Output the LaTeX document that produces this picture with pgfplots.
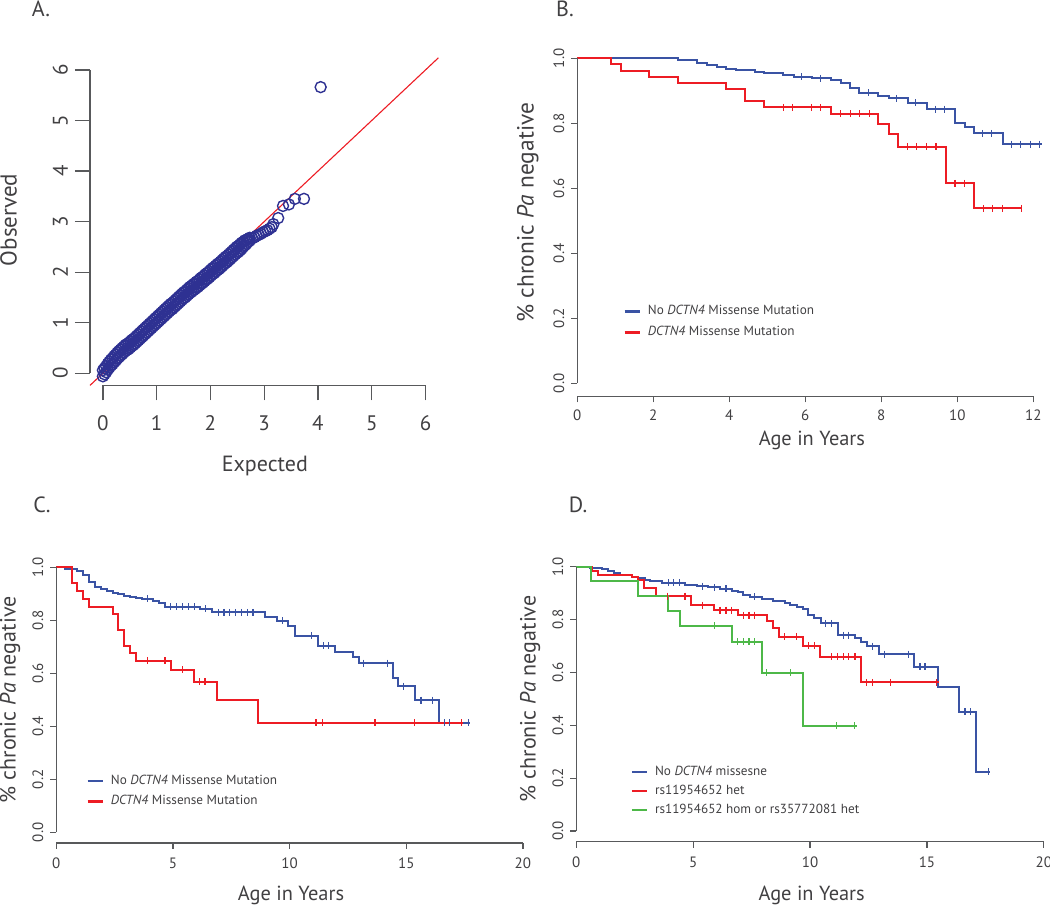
\documentclass[border=0pt]{standalone}
\usepackage{pgfplots}
\pgfplotsset{compat=1.18}
\usepackage{fontspec}
\setmainfont{PT Sans}
\definecolor{txt}{HTML}{414042}
\definecolor{axc}{HTML}{58595B}
\definecolor{kmblue}{HTML}{3A53A4}
\definecolor{kmred}{HTML}{ED1C24}
\definecolor{kmgreen}{HTML}{4DB848}
\definecolor{qqblue}{HTML}{2E3192}
\newcommand{\fs}[1]{\fontsize{#1}{#1}\selectfont}
\pgfplotsset{
  Rax/.style={scale only axis, anchor=south west, axis line style={draw=none},
    tick align=outside, tick pos=left, tick style={axc, line width=0.6pt},
    clip=false, major tick length=3pt,
    xticklabel style={text=txt, font=\fs{7.5}},
    yticklabel style={text=txt, font=\fs{7.5}, rotate=90, anchor=south},
    legend cell align=left,
    legend image code/.code={\draw[#1, line width=1.3pt] (0pt,0pt) -- (7.5pt,0pt);},
  },
  step/.style={const plot, line width=1pt},
  cens/.style={only marks, mark=|, mark size=1.75pt, mark options={line width=0.6pt}, forget plot},
  leg/.style={legend style={draw=none, fill=none, inner sep=0pt, anchor=north west,
     font=\fs{6.6}, text=txt, row sep=3.2pt, nodes={inner sep=0.5pt},
     /tikz/every odd column/.append style={column sep=3pt}}},
}
\begin{document}
\begin{tikzpicture}
\useasboundingbox (0pt,0pt) rectangle (525pt,453.5pt);
\node[text=txt, font=\fs{11}] at (20.5pt,449pt) {A.};
\node[text=txt, font=\fs{11}] at (282.5pt,449pt) {B.};
\node[text=txt, font=\fs{11}] at (21pt,201pt) {C.};
\node[text=txt, font=\fs{11}] at (289pt,201pt) {D.};
% ---------------- A
\begin{axis}[Rax, at={(45pt,260.8pt)}, width=174.2pt, height=163.8pt,
  xmin=-0.24, xmax=6.24, ymin=-0.24, ymax=6.24,
  xtick={0,1,2,3,4,5,6}, xticklabels={0,1,2,3,4,5,6},
  ytick={0,1,2,3,4,5,6}, yticklabels={0,1,2,3,4,5,6},
  major tick length=7.5pt,
  xticklabel style={font=\fs{10.5}, yshift=-4pt}, yticklabel style={font=\fs{10.5}}]
\addplot[only marks, mark=o, mark size=2.75pt, qqblue, mark options={line width=0.7pt}] coordinates {
(0.00,0.06)(0.03,0.10)(0.06,0.14)(0.09,0.19)(0.12,0.23)(0.15,0.27)(0.18,0.30)(0.21,0.34)(0.24,0.37)(0.27,0.41)
(0.30,0.44)(0.33,0.47)(0.36,0.50)(0.39,0.53)(0.42,0.56)(0.45,0.58)(0.48,0.60)(0.51,0.63)(0.54,0.66)(0.57,0.68)
(0.60,0.71)(0.63,0.74)(0.66,0.77)(0.69,0.80)(0.72,0.83)(0.75,0.86)(0.78,0.89)(0.81,0.92)(0.84,0.95)(0.87,0.98)
(0.90,1.01)(0.93,1.04)(0.96,1.07)(0.99,1.10)(1.02,1.13)(1.05,1.16)(1.08,1.19)(1.11,1.22)(1.14,1.25)(1.17,1.28)
(1.20,1.31)(1.23,1.34)(1.26,1.37)(1.29,1.39)(1.32,1.42)(1.35,1.45)(1.38,1.48)(1.41,1.51)(1.44,1.54)(1.47,1.57)
(1.50,1.60)(1.53,1.62)(1.56,1.65)(1.59,1.68)(1.62,1.71)(1.65,1.73)(1.68,1.76)(1.71,1.78)(1.74,1.81)(1.77,1.83)
(1.80,1.86)(1.83,1.89)(1.86,1.91)(1.89,1.94)(1.92,1.97)(1.95,1.99)(1.98,2.02)(2.01,2.05)(2.04,2.08)(2.07,2.10)
(2.10,2.13)(2.13,2.16)(2.16,2.18)(2.19,2.21)(2.22,2.24)(2.25,2.27)(2.28,2.30)(2.31,2.32)(2.34,2.35)(2.37,2.38)
(2.40,2.41)(2.43,2.44)(2.46,2.47)(2.49,2.50)(2.52,2.52)(2.55,2.55)(2.58,2.58)(2.61,2.60)(2.64,2.63)(2.67,2.64)
(2.70,2.66)(2.73,2.68)
(0.00,-0.06)(0.03,-0.02)(0.06,0.02)(0.09,0.07)(0.12,0.11)(0.15,0.15)(0.18,0.18)(0.21,0.22)(0.24,0.25)(0.27,0.29)
(0.30,0.32)(0.33,0.35)(0.36,0.38)(0.39,0.41)(0.42,0.44)(0.45,0.46)(0.48,0.48)(0.51,0.51)(0.54,0.54)(0.57,0.56)
(0.60,0.59)(0.63,0.62)(0.66,0.65)(0.69,0.68)(0.72,0.71)(0.75,0.74)(0.78,0.77)(0.81,0.80)(0.84,0.83)(0.87,0.86)
(0.90,0.89)(0.93,0.92)(0.96,0.95)(0.99,0.98)(1.02,1.01)(1.05,1.04)(1.08,1.07)(1.11,1.10)(1.14,1.13)(1.17,1.16)
(1.20,1.19)(1.23,1.22)(1.26,1.25)(1.29,1.27)(1.32,1.30)(1.35,1.33)(1.38,1.36)(1.41,1.39)(1.44,1.42)(1.47,1.45)
(1.50,1.48)(1.53,1.50)(1.56,1.53)(1.59,1.56)(1.62,1.59)(1.65,1.61)(1.68,1.64)(1.71,1.66)(1.74,1.69)(1.77,1.71)
(1.80,1.74)(1.83,1.77)(1.86,1.79)(1.89,1.82)(1.92,1.85)(1.95,1.87)(1.98,1.90)(2.01,1.93)(2.04,1.96)(2.07,1.98)
(2.10,2.01)(2.13,2.04)(2.16,2.06)(2.19,2.09)(2.22,2.12)(2.25,2.15)(2.28,2.18)(2.31,2.20)(2.34,2.23)(2.37,2.26)
(2.40,2.29)(2.43,2.32)(2.46,2.35)(2.49,2.38)(2.52,2.40)(2.55,2.43)(2.58,2.46)(2.61,2.50)(2.64,2.53)(2.67,2.56)
(2.70,2.60)(2.73,2.62)
(2.78,2.67)(2.82,2.69)(2.86,2.72)(2.90,2.74)(2.94,2.76)(2.98,2.79)(3.02,2.81)(3.06,2.83)(3.10,2.86)(3.14,2.89)
(3.17,2.95)(3.26,3.07)(3.35,3.31)(3.46,3.34)(3.57,3.45)(3.74,3.45)(4.05,5.66)
};
\addplot[kmred, line width=0.55pt] coordinates {(-0.24,-0.24)(6.24,6.24)};
\draw[axc, line width=0.6pt] (axis cs:0,-0.24) -- (axis cs:6,-0.24);
\draw[axc, line width=0.6pt] (axis cs:-0.24,0) -- (axis cs:-0.24,6);
\node[text=txt, font=\fs{11.5}, rotate=90] at (rel axis cs:-0.234,0.505) {Observed};
\node[text=txt, font=\fs{11}] at (rel axis cs:0.502,-0.245) {Expected};
\end{axis}
% ---------------- B
\begin{axis}[Rax, leg, at={(288.65pt,255.35pt)}, width=233.7pt, height=175.5pt,
  xmin=0, xmax=12.3, ymin=-0.04, ymax=1.04,
  xtick={0,2,4,6,8,10,12}, xticklabels={0,2,4,6,8,10,12},
  ytick={0,0.2,0.4,0.6,0.8,1.0}, yticklabels={0.0,0.2,0.4,0.6,0.8,1.0},
  legend style={at={(axis cs:1.2,0.244)}}]
\addplot[step, kmblue] coordinates {(0,1)(2.64,0.9958)(3.14,0.9846)(3.40,0.9794)(3.67,0.9743)(3.91,0.9671)(4.17,0.9640)(4.68,0.9589)(4.92,0.9538)(5.42,0.9486)(5.69,0.9435)(6.17,0.9384)(6.68,0.9332)(6.93,0.9230)(7.18,0.9076)(7.42,0.8943)(7.92,0.8850)(8.19,0.8768)(8.69,0.8635)(9.19,0.8440)(9.94,0.8020)(10.19,0.7876)(10.44,0.7691)(11.19,0.7363)(12.24,0.7363)};
\addlegendentry{No \textit{DCTN4} Missense Mutation}
\addplot[step, kmred] coordinates {(0,1)(0.89,0.9825)(1.14,0.9620)(1.89,0.9435)(2.64,0.9250)(3.91,0.9055)(4.41,0.8686)(4.92,0.8491)(6.68,0.8297)(7.92,0.7968)(8.19,0.7661)(8.43,0.7281)(9.69,0.6153)(10.44,0.5384)(11.70,0.5384)};
\addlegendentry{\textit{DCTN4} Missense Mutation}
\addplot[cens, kmblue] coordinates {(5.90,0.9435)(6.41,0.9384)(7.66,0.8943)(8.41,0.8768)(8.91,0.8635)(9.42,0.8440)(9.66,0.8440)(10.66,0.7691)(10.91,0.7691)(11.42,0.7363)(11.67,0.7363)(11.92,0.7363)(12.17,0.7363)};
\addplot[cens, kmred] coordinates {(5.42,0.8491)(5.66,0.8491)(6.17,0.8491)(6.41,0.8491)(6.93,0.8297)(7.18,0.8297)(7.42,0.8297)(7.68,0.8297)(8.69,0.7281)(8.93,0.7281)(9.19,0.7281)(9.44,0.7281)(9.94,0.6153)(10.19,0.6153)(10.69,0.5384)(10.93,0.5384)(11.19,0.5384)(11.69,0.5384)};
\draw[axc, line width=0.6pt] (axis cs:0,-0.04) -- (axis cs:12,-0.04);
\draw[axc, line width=0.6pt] (axis cs:0,0) -- (axis cs:0,1);
\node[text=txt, font=\fs{11.7}, rotate=90] at (rel axis cs:-0.106,0.523) {\% chronic \textit{Pa} negative};
\node[text=txt, font=\fs{10.2}] at (rel axis cs:0.502,-0.1245) {Age in Years};
\end{axis}
% ---------------- C
\begin{axis}[Rax, leg, at={(28.15pt,32.05pt)}, width=233.3pt, height=143.1pt,
  xmin=0, xmax=20, ymin=-0.04, ymax=1.04,
  xtick={0,5,10,15,20}, xticklabels={0,5,10,15,20},
  xticklabel style={yshift=-1pt},
  ytick={0,0.2,0.4,0.6,0.8,1.0}, yticklabels={0.0,0.2,0.4,0.6,0.8,1.0},
  legend style={at={(axis cs:1.27,0.223)}}]
\addplot[step, kmblue] coordinates {(0,1)(0.37,0.995)(0.87,0.987)(1.16,0.971)(1.41,0.943)(1.66,0.925)(1.90,0.918)(2.19,0.912)(2.41,0.904)(2.66,0.898)(2.90,0.893)(3.16,0.889)(3.41,0.884)(3.66,0.881)(4.16,0.873)(4.41,0.865)(4.66,0.852)(6.16,0.844)(6.66,0.830)(8.94,0.814)(9.44,0.799)(9.94,0.779)(10.23,0.741)(11.20,0.704)(11.94,0.682)(12.73,0.660)(12.99,0.638)(14.42,0.581)(14.63,0.552)(15.37,0.499)(16.40,0.414)(17.73,0.414)};
\addlegendentry{No \textit{DCTN4} Missense Mutation}
\addplot[step, kmred] coordinates {(0,1)(0.66,0.942)(0.90,0.912)(1.16,0.881)(1.41,0.852)(2.41,0.823)(2.66,0.764)(2.90,0.704)(3.16,0.675)(3.41,0.647)(4.90,0.613)(5.89,0.569)(6.90,0.499)(8.63,0.414)(17.44,0.414)};
\addlegendentry{\textit{DCTN4} Missense Mutation}
\addplot[cens, kmblue] coordinates {(3.90,0.881)(4.90,0.852)(5.16,0.852)(5.41,0.852)(5.66,0.852)(5.91,0.852)(6.41,0.844)(6.94,0.830)(7.19,0.830)(7.44,0.830)(7.69,0.830)(7.94,0.830)(8.19,0.830)(8.43,0.830)(9.70,0.799)(10.94,0.741)(11.44,0.704)(11.68,0.704)(13.16,0.638)(14.18,0.638)(14.87,0.552)(15.63,0.499)(16.11,0.499)(16.63,0.414)(16.87,0.414)(17.66,0.414)};
\addplot[cens, kmred] coordinates {(3.90,0.647)(4.66,0.647)(5.41,0.613)(6.13,0.569)(6.37,0.569)(11.13,0.414)(11.40,0.414)(13.66,0.414)(15.37,0.414)(17.37,0.414)};
\draw[axc, line width=0.6pt] (axis cs:0,-0.04) -- (axis cs:20,-0.04);
\draw[axc, line width=0.6pt] (axis cs:0,0) -- (axis cs:0,1);
\node[text=txt, font=\fs{11}, rotate=90] at (rel axis cs:-0.0992,0.5) {\% chronic \textit{Pa} negative};
\node[text=txt, font=\fs{10.2}] at (rel axis cs:0.503,-0.185) {Age in Years};
\end{axis}
% ---------------- D
\begin{axis}[Rax, leg, at={(288.15pt,32.7pt)}, width=233.75pt, height=142.75pt,
  xmin=0, xmax=20, ymin=-0.04, ymax=1.04,
  xtick={0,5,10,15,20}, xticklabels={0,5,10,15,20},
  xticklabel style={yshift=-1pt},
  ytick={0,0.2,0.4,0.6,0.8,1.0}, yticklabels={0.0,0.2,0.4,0.6,0.8,1.0},
  legend style={at={(axis cs:2.30,0.252)}, row sep=2.3pt}]
\addplot[step, kmblue] coordinates {(0,1)(0.585,0.9962)(1.084,0.9912)(1.369,0.9836)(1.626,0.9748)(1.868,0.9685)(2.396,0.9622)(2.624,0.9559)(2.937,0.9496)(3.151,0.9445)(3.650,0.9395)(4.648,0.9306)(5.148,0.9269)(5.647,0.9218)(6.146,0.9168)(6.645,0.9092)(6.930,0.9029)(7.144,0.8928)(7.429,0.8865)(7.928,0.8764)(8.427,0.8689)(8.926,0.8613)(9.140,0.8537)(9.425,0.8462)(9.711,0.8386)(9.924,0.8171)(10.181,0.8045)(10.466,0.7856)(11.208,0.7415)(11.921,0.7289)(12.177,0.7137)(12.42,0.6999)(12.947,0.6696)(14.459,0.6217)(15.457,0.5435)(16.38,0.451)(17.12,0.2245)(17.70,0.2245)};
\addlegendentry{No \textit{DCTN4} missesne}
\addplot[step, kmred] coordinates {(0,1)(0.68,0.985)(0.91,0.9685)(2.40,0.9597)(2.65,0.9496)(2.91,0.9206)(3.41,0.889)(4.91,0.855)(5.90,0.836)(6.90,0.817)(8.14,0.794)(8.43,0.767)(8.67,0.735)(9.68,0.701)(10.42,0.6595)(12.18,0.5624)(15.50,0.5624)};
\addlegendentry{rs11954652 het}
\addplot[step, kmgreen] coordinates {(0,1)(0.63,0.9458)(2.65,0.889)(3.91,0.8335)(4.44,0.7768)(6.65,0.7163)(7.93,0.599)(9.68,0.3985)(11.99,0.3985)};
\addlegendentry{rs11954652 hom or rs35772081 het}
\addplot[cens, kmblue] coordinates {(3.94,0.9395)(4.15,0.9395)(4.41,0.9395)(5.40,0.9269)(5.90,0.9218)(6.40,0.9168)(7.64,0.8865)(10.67,0.7856)(10.92,0.7856)(11.42,0.7415)(11.66,0.7415)(12.68,0.6999)(13.18,0.6696)(14.20,0.6696)(14.70,0.6217)(14.92,0.6217)(16.63,0.451)(16.87,0.451)(17.62,0.2245)};
\addplot[cens, kmred] coordinates {(3.90,0.889)(4.65,0.889)(5.40,0.855)(6.15,0.836)(6.40,0.836)(6.65,0.836)(7.14,0.817)(7.39,0.817)(7.64,0.817)(8.90,0.735)(9.43,0.735)(9.92,0.701)(10.18,0.701)(10.92,0.6595)(11.18,0.6595)(11.42,0.6595)(11.66,0.6595)(11.92,0.6595)(12.42,0.5624)(12.68,0.5624)(13.45,0.5624)(15.41,0.5624)};
\addplot[cens, kmgreen] coordinates {(5.90,0.7768)(6.90,0.7163)(7.14,0.7163)(7.39,0.7163)(7.64,0.7163)(8.14,0.599)(9.18,0.599)(11.14,0.3985)(11.89,0.3985)};
\draw[axc, line width=0.6pt] (axis cs:0,-0.04) -- (axis cs:20,-0.04);
\draw[axc, line width=0.6pt] (axis cs:0,0) -- (axis cs:0,1);
\node[text=txt, font=\fs{11}, rotate=90] at (rel axis cs:-0.099,0.5) {\% chronic \textit{Pa} negative};
\node[text=txt, font=\fs{10.2}] at (rel axis cs:0.5035,-0.19) {Age in Years};
\end{axis}
\end{tikzpicture}
\end{document}
